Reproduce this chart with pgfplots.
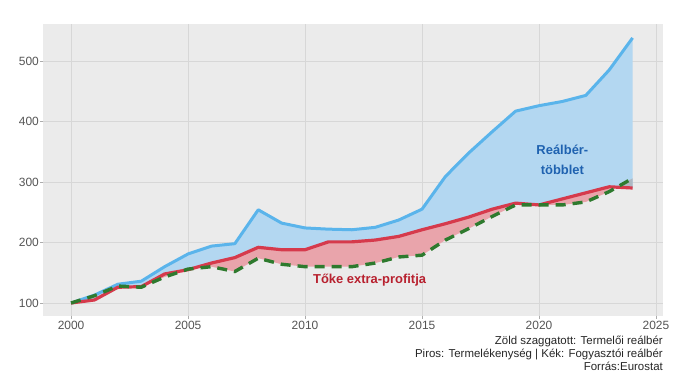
\documentclass[border=0pt]{standalone}
\usepackage{pgfplots}
\pgfplotsset{compat=1.18}
\usepackage{pgfplotstable}
\usepgfplotslibrary{fillbetween}
\usepackage{fontspec}
\setmainfont{Liberation Sans}
\definecolor{panelbg}{HTML}{EBEBEB}
\definecolor{gridc}{HTML}{D7D7D7}
\definecolor{tickc}{HTML}{555555}
\definecolor{blueline}{HTML}{5AB4EB}
\definecolor{bluefill}{HTML}{B3D7F1}
\definecolor{redline}{HTML}{D63A4C}
\definecolor{pinkfill}{HTML}{E9A4AB}
\definecolor{greenline}{HTML}{2E7A2E}
\definecolor{grayfill}{HTML}{AEB8C2}
\definecolor{bluelab}{HTML}{1F62B0}
\definecolor{redlab}{HTML}{B8212F}
\pgfplotstableread{
t blue red green
0 100 100 100
1 113 105 112
2 131 126 128
3 136 127 126
4 160 148 143
5 181 155 156
6 194 166 160
7 198 175 152
8 254 192 174
9 232 188 164
10 224 188 160
11 222 201 160
12 221 201 160
13 225 204 166
14 237 210 176
15 255 221 179
16 309 231 204
17 348 242 223
18 383 255 243
19 417 265 262
20 426 262 262
21 433 272 262
22 443 282 267
23 485 292 284
24 538 290 306
}\datatable
\begin{document}
\begin{tikzpicture}
\begin{axis}[
  at={(43bp,63bp)}, anchor=south west,
  width=620bp, height=292bp, scale only axis,
  xmin=-1.2, xmax=25.3, ymin=78.5, ymax=561,
  axis background/.style={fill=panelbg},
  axis line style={draw=none},
  grid=major, major grid style={gridc, line width=0.8pt},
  tick align=outside, major tick length=3bp,
  tick style={draw=gridc!80!black, line width=0.8pt},
  xtick pos=bottom, ytick pos=left,
  xtick={0,5,...,25}, xticklabels={2000,2005,2010,2015,2020,2025},
  ytick={100,200,...,500},
  /pgf/number format/assume math mode=true,
  tick label style={font=\fontsize{12}{14}\selectfont, text=tickc},
  yticklabel style={anchor=east, inner sep=0pt, xshift=-1bp},
  xticklabel style={anchor=north, inner sep=0pt, yshift=-2bp},
]
\addplot[draw=none, name path=B] table[x=t,y=blue] {\datatable};
\addplot[draw=none, name path=R] table[x=t,y=red] {\datatable};
\addplot[draw=none, name path=G] table[x=t,y=green] {\datatable};
\addplot[pinkfill, draw=none] fill between[of=G and R, soft clip={domain=0:23.33}];
\addplot[bluefill, draw=none] fill between[of=R and B];
\addplot[grayfill, draw=none] fill between[of=R and G, soft clip={domain=23.33:24}];
\addplot[blueline, line width=3bp, line join=round] table[x=t,y=blue] {\datatable};
\addplot[redline, line width=3.2bp, line join=round] table[x=t,y=red] {\datatable};
\addplot[greenline, line width=3.4bp, dash pattern=on 10bp off 7bp] table[x=t,y=green] {\datatable};
\node[align=center, text=bluelab, font=\fontsize{13}{20}\bfseries\selectfont] at (axis cs:21,337) {Reálbér-\\többlet};
\node[text=redlab, font=\fontsize{13}{15}\bfseries\selectfont] at (axis cs:12.76,138) {Tőke extra-profitja};
\end{axis}
\begin{scope}[every node/.style={anchor=base east, inner sep=0pt, text=black!85, font=\fontsize{11.5}{13}\selectfont}]
\node at (663bp,35bp) {Zöld szaggatott: Termelői reálbér};
\node at (663bp,22bp) {Piros: Termelékenység | Kék: Fogyasztói reálbér};
\node at (663bp,9bp) {Forrás:Eurostat};
\end{scope}
\path (0,0) rectangle (682bp,379bp);
\end{tikzpicture}
\end{document}
